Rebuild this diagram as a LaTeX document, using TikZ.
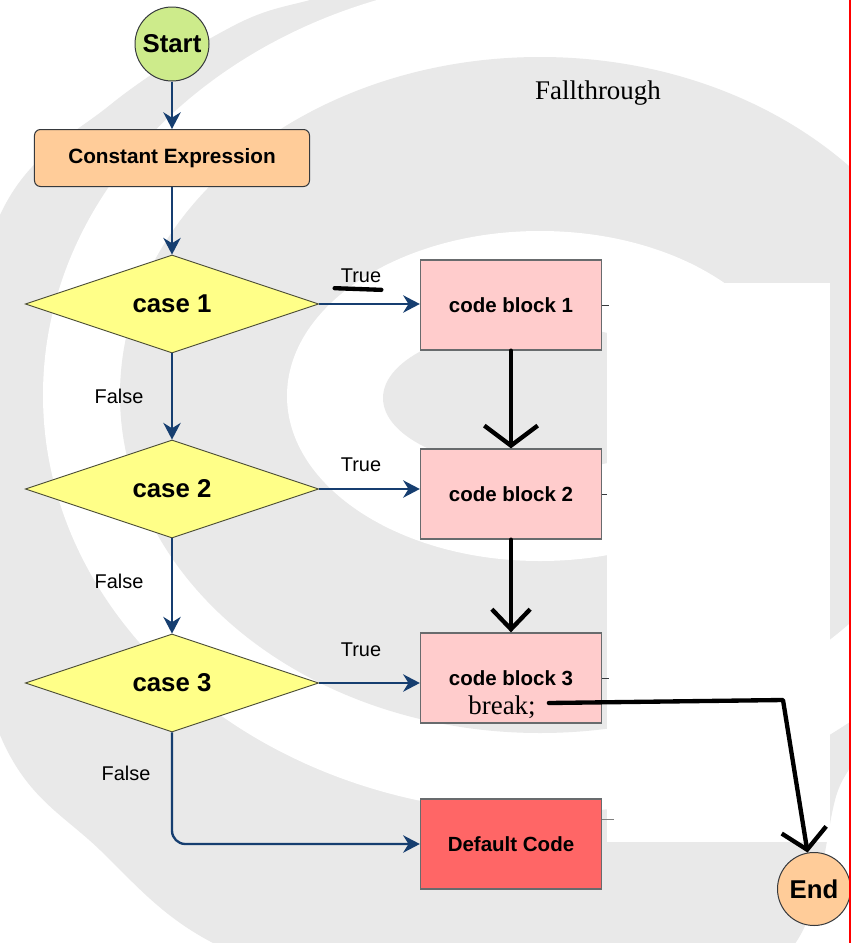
\documentclass[tikz,border=0pt]{standalone}
\usepackage{fontspec}
\setmainfont{Liberation Serif}
\setsansfont{Liberation Sans}
\usetikzlibrary{shapes.geometric, arrows.meta}

\definecolor{flowblue}{RGB}{22,62,112}
\definecolor{markgray}{RGB}{233,233,233}
\definecolor{startgreen}{HTML}{CDEB8B}
\definecolor{peach}{HTML}{FFCC99}
\definecolor{pinkblock}{HTML}{FFCCCC}
\definecolor{redblock}{HTML}{FF6666}
\definecolor{caseyellow}{HTML}{FFFF88}
\definecolor{edgegray}{HTML}{36393D}

\tikzset{
  terminal/.style={circle, draw=edgegray, line width=0.3mm, minimum size=22.2mm, inner sep=0pt,
    font=\sffamily\bfseries\fontsize{22}{26}\selectfont},
  exprbox/.style={rectangle, rounded corners=1.8mm, draw=edgegray, line width=0.3mm, fill=peach,
    minimum width=82.5mm, minimum height=17.1mm, font=\sffamily\bfseries\fontsize{17.7}{21}\selectfont},
  casebox/.style={diamond, draw=edgegray!80!olive, line width=0.25mm, fill=caseyellow,
    minimum width=88mm, minimum height=29.4mm, inner sep=0pt,
    font=\sffamily\bfseries\fontsize{22}{26}\selectfont},
  codebox/.style={rectangle, draw=edgegray!75, line width=0.4mm, fill=pinkblock,
    minimum width=54.3mm, minimum height=27mm, font=\sffamily\bfseries\fontsize{17.5}{21}\selectfont},
  lbl/.style={inner sep=0pt, font=\sffamily\fontsize{17}{20}\selectfont},
  handtext/.style={inner sep=0pt, font=\rmfamily\fontsize{23}{27}\selectfont},
  flow/.style={draw=flowblue, line width=0.7mm, -{Stealth[length=5mm, width=5.2mm, inset=1.6mm]}},
  pen/.style={draw=black, line width=1.3mm, line cap=round, line join=round},
  stub/.style={draw=edgegray, line width=0.3mm}
}

\begin{document}
\begin{tikzpicture}[x=0.3mm, y=-0.3mm]
  \useasboundingbox (0,0) rectangle (851,943);
  % watermark in the background
  \fill[white] (0,0) rectangle (851,943);
  \fill[markgray] plot[smooth cycle, tension=0.6] coordinates {
    (520,120) (400,-25) (317,-2) (235,25) (110,105) (0,215) (-60,470) (0,735)
    (100,850) (217,945) (420,1010) (650,1010) (790,950) (835,800) (850,720) (760,480)};
  \fill[white] (540,395) ellipse [x radius=497, y radius=418];
  \fill[markgray] (540,395) ellipse [x radius=420, y radius=338];
  \fill[white] (540,396) ellipse [x radius=253, y radius=165];
  \fill[markgray] (540,398) ellipse [x radius=157, y radius=72];
  % pasted-over part on the right
  \fill[white] (607,283) rectangle (830,842);

  % nodes
  \node[terminal, fill=startgreen] (start) at (172,44) {Start};
  \node[exprbox] (expr) at (172,158) {Constant Expression};
  \node[casebox] (case1) at (172,304) {case 1};
  \node[casebox] (case2) at (172,489) {case 2};
  \node[casebox] (case3) at (172,683) {case 3};
  \node[codebox] (cb1) at (511,305) {code block 1};
  \node[codebox] (cb2) at (511,494) {code block 2};
  \node[codebox] (cb3) at (511,678) {code block 3};
  \node[codebox, fill=redblock] (dflt) at (511,844) {Default Code};
  \node[terminal, fill=peach, minimum size=21.9mm] (endn) at (814,889) {End};
  \node[handtext] (brk) at (502,707) {break;};
  \node[handtext] (fall) at (598,93) {Fallthrough};

  % labels
  \node[lbl] (t1) at (361,276) {True};
  \node[lbl] (t2) at (361,465) {True};
  \node[lbl] (t3) at (361,650) {True};
  \node[lbl] (f1) at (119,396) {False};
  \node[lbl] (f2) at (119,581) {False};
  \node[lbl] (f3) at (126,773) {False};

  % blue connectors
  \draw[flow] (start) -- (expr);
  \draw[flow] (expr) -- (case1);
  \draw[flow] (case1) -- (case2);
  \draw[flow] (case2) -- (case3);
  \draw[flow, rounded corners=4mm] (case3.south) |- (dflt.west);
  \draw[flow] (case1.east) -- (case1.east -| cb1.west);
  \draw[flow] (case2.east) -- (case2.east -| cb2.west);
  \draw[flow] (case3.east) -- (case3.east -| cb3.west);

  % cut-off connector ends
  \draw[stub] (cb1.east) -- ++(7,0);
  \draw[stub] (cb2.east) -- ++(5,0);
  \draw[stub] (cb3.east) -- ++(7,0);
  \draw[stub, draw=gray] ([yshift=7.5mm]dflt.east) -- ++(12,0);

  % hand-drawn additions
  \draw[pen] ([xshift=-1.8mm, yshift=-1.5mm]t1.south west) -- ([yshift=-2mm]t1.south east);
  \draw[pen, -{Straight Barb[length=6mm, width=16mm]}] (cb1.south) -- (cb2.north);
  \draw[pen, -{Straight Barb[length=6mm, width=11.5mm]}] (cb2.south) -- (cb3.north);
  \coordinate (bend) at (783,700);
  \draw[pen, -{Straight Barb[length=6mm, width=13.5mm]}]
    ([xshift=3.9mm, yshift=1.2mm]brk.east) -- (bend) -- (endn.100);

  % right border line
  \draw[red, line width=0.6mm] (849.5,0) -- (849.5,943);
\end{tikzpicture}
\end{document}
